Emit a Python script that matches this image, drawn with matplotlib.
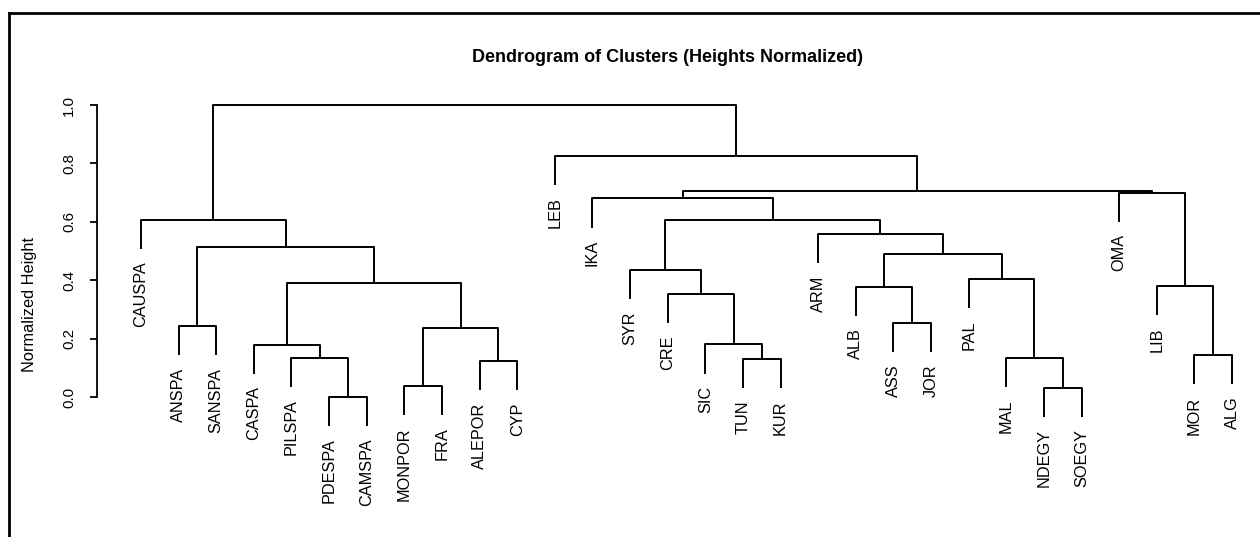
import numpy as np
import matplotlib
matplotlib.use('Agg')
from matplotlib import pyplot as plt
from matplotlib.lines import Line2D

plt.rcParams['font.family'] = ['Liberation Sans', 'DejaVu Sans']

# leaf labels in plotted order
labels = ['CAUSPA', 'ANSPA', 'SANSPA', 'CASPA', 'PILSPA', 'PDESPA', 'CAMSPA',
          'MONPOR', 'FRA', 'ALEPOR', 'CYP', 'LEB', 'IKA', 'SYR', 'CRE', 'SIC',
          'TUN', 'KUR', 'ARM', 'ALB', 'ASS', 'JOR', 'PAL', 'MAL', 'NDEGY',
          'SOEGY', 'OMA', 'LIB', 'MOR', 'ALG']

# hclust style merge table: negative = leaf (1-based), positive = earlier merge row
merge_left = [-6, -25, -8, -10, -17, -5, -24, -29, -4, -16, 3, -2, -21, -15,
              -20, -28, 9, -23, -14, 15, 12, -19, -1, 19, -13, -27, 25, -12, 23]
merge_right = [-7, -26, -9, -11, -18, 1, 2, -30, 6, 5, 4, -3, -22, 10,
               13, 8, 11, 7, 14, 18, 17, 20, 21, 22, 24, 16, 26, 27, 28]
heights = [0.0, 0.031, 0.038, 0.123, 0.13, 0.134, 0.134, 0.144, 0.178, 0.18,
           0.236, 0.243, 0.253, 0.353, 0.377, 0.38, 0.39, 0.404, 0.435, 0.49,
           0.514, 0.558, 0.606, 0.606, 0.68, 0.699, 0.705, 0.825, 1.0]

hang = 0.1

W, H = 1260, 537
fig = plt.figure(figsize=(W / 100, H / 100), dpi=100)

# axes placed in pixel terms: y-axis line at x=97, 1.0 at y=105, 0.0 at y=397
px_unit_x = (1232 - 141) / 29.0
px_unit_y = 292.0
ax_left, ax_right, ax_top, ax_bot = 97, 1250, 90, 500
ax = fig.add_axes([ax_left / W, 1 - ax_bot / H, (ax_right - ax_left) / W, (ax_bot - ax_top) / H])
ax.set_xlim(1 - (141 - ax_left) / px_unit_x, 30 + (ax_right - 1232) / px_unit_x)
ax.set_ylim(-(ax_bot - 397) / px_unit_y, 1.0 + (105 - ax_top) / px_unit_y)

node_x = {}
node_h = {}

def pos(i):
    if i < 0:
        return float(-i), None
    return node_x[i], node_h[i]

lw = 1.4
for r in range(len(heights)):
    row = r + 1
    h = heights[r]
    xl, hl = pos(merge_left[r])
    xr, hr = pos(merge_right[r])
    hl = h - hang if hl is None else hl
    hr = h - hang if hr is None else hr
    ax.plot([xl, xl, xr, xr], [hl, h, h, hr], color='black', lw=lw, solid_capstyle='butt')
    node_x[row] = (xl + xr) / 2
    node_h[row] = h

# leaf labels
leaf_h = {}
for r in range(len(heights)):
    for c in (merge_left[r], merge_right[r]):
        if c < 0:
            leaf_h[-c] = heights[r] - hang
for i, lab in enumerate(labels, start=1):
    ax.text(i, leaf_h[i] - 0.042, lab, rotation=90, ha='center', va='top', fontsize=11.7)

for s in ['top', 'right', 'bottom']:
    ax.spines[s].set_visible(False)
ax.spines['left'].set_bounds(0, 1)
ax.spines['left'].set_linewidth(1.3)
ax.set_xticks([])
ax.set_yticks([0, 0.2, 0.4, 0.6, 0.8, 1.0])
ax.set_yticklabels(['0.0', '0.2', '0.4', '0.6', '0.8', '1.0'], rotation=90, va='center')
ax.tick_params(axis='y', length=5, width=1.3, pad=10, labelsize=10.8)
ax.patch.set_visible(False)

fig.text(668 / W, 1 - 57 / H, 'Dendrogram of Clusters (Heights Normalized)',
         ha='center', va='center', fontsize=13, fontweight='bold')
fig.text(30 / W, 1 - 304 / H, 'Normalized Height', rotation=90,
         ha='center', va='center', fontsize=11.8)

# frame lines (left and top edges of the screenshot)
fig.add_artist(Line2D([9 / W, 9 / W], [0, 1 - 12.5 / H], color='black', lw=2))
fig.add_artist(Line2D([9 / W, 1], [1 - 12.5 / H, 1 - 12.5 / H], color='black', lw=2))

fig.savefig('out.png', dpi=100)
